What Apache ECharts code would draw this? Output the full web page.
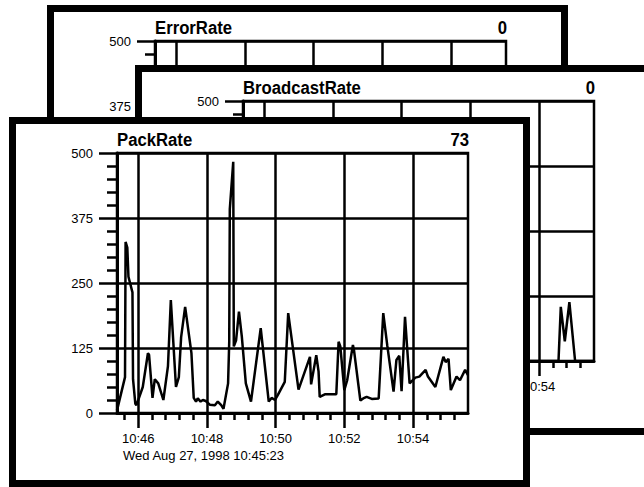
<!DOCTYPE html>
<html><head><meta charset="utf-8">
<script src="https://cdn.jsdelivr.net/npm/echarts@6/dist/echarts.min.js"></script>
<style>
html,body{margin:0;padding:0;width:644px;height:487px;overflow:hidden;background:#fff;}
.panel{position:absolute;width:521px;height:370px;border:7px solid #000;box-sizing:border-box;background:#fff;}
.panel .c{width:507px;height:356px;}
</style></head><body>
<div class="panel" style="left:47px;top:5px;z-index:1"><div class="c" id="c3"></div></div>
<div class="panel" style="left:135px;top:65px;z-index:2"><div class="c" id="c2"></div></div>
<div class="panel" style="left:9px;top:117px;z-index:3"><div class="c" id="c1"></div></div>
<script>
const startLabel = 'Wed Aug 27, 1998 10:45:23';
const axisStart = '10:45:23';
const axisEnd = '10:55:36';
const yTickValues = [0, 125, 250, 375, 500];
const xTickLabels = ['10:46', '10:48', '10:50', '10:52', '10:54'];

const packTimes = ['10:45:23','10:45:37','10:45:38','10:45:41','10:45:43','10:45:50','10:45:51','10:45:55','10:45:57','10:46:08',
 '10:46:17','10:46:19','10:46:25','10:46:29','10:46:35','10:46:44','10:46:52','10:46:57','10:47:06','10:47:11',
 '10:47:15','10:47:22','10:47:33','10:47:37','10:47:41','10:47:44','10:47:49','10:47:53','10:47:58','10:48:05',
 '10:48:14','10:48:19','10:48:25','10:48:29','10:48:37','10:48:39','10:48:40','10:48:46','10:48:47','10:48:51',
 '10:48:56','10:49:01','10:49:08','10:49:17','10:49:34','10:49:48','10:49:53','10:49:59','10:50:04','10:50:16',
 '10:50:22','10:50:40','10:51:00','10:51:02','10:51:11','10:51:15','10:51:17','10:51:26','10:51:46','10:51:50',
 '10:51:53','10:52:00','10:52:05','10:52:15','10:52:17','10:52:28','10:52:33','10:52:39','10:52:48','10:53:00',
 '10:53:08','10:53:15','10:53:26','10:53:31','10:53:36','10:53:40','10:53:46','10:53:54','10:54:04','10:54:11',
 '10:54:22','10:54:26','10:54:39','10:54:53','10:54:57','10:55:02','10:55:06','10:55:11','10:55:16','10:55:22',
 '10:55:31','10:55:36'];
const packValues = [5,69,329,318,262,232,65,18,15,50,
 115,112,29,65,57,25,90,217,50,69,
 146,204,115,29,22,28,22,25,23,16,
 15,22,15,8,57,137,392,483,128,140,
 195,147,57,22,163,22,29,25,35,60,
 192,45,108,55,111,80,31,36,36,137,
 128,44,63,131,120,24,28,31,27,28,
 192,130,41,102,110,42,185,57,68,70,
 83,70,50,108,98,104,44,57,70,63,
 83,73];

const broadcastTimes = ['10:45:23','10:54:34','10:54:38','10:54:45','10:54:53','10:55:03','10:55:36'];
const broadcastValues = [0,0,104,38,113,0,0];

const errorTimes = ['10:45:23','10:55:36'];
const errorValues = [0,0];

function toMin(t){const p=t.split(':').map(Number);return p[0]*60+p[1]+(p[2]||0)/60;}
function fmt(v){const h=Math.floor(v/60+1e-9);const m=Math.round(v-h*60);return h+':'+String(m).padStart(2,'0');}

const FONT = '"Liberation Sans", Arial, sans-serif';

function makeChart(id, name, times, values){
  const chart = echarts.init(document.getElementById(id), null, {renderer:'svg'});
  const data = times.map((t,i)=>[toMin(t), values[i]]);
  const tickVals = xTickLabels.map(toMin);
  const black = '#000';
  const titleStyle = {fill:black, fontFamily:FONT, fontWeight:'bold', fontSize:19, verticalAlign:'middle'};
  chart.setOption({
    animation:false,
    grid:{left:101, top:29, width:351, height:260, show:true, borderColor:black, borderWidth:2.5, backgroundColor:'transparent'},
    graphic:[
      {type:'text', x:101, y:16, scaleX:0.88, style:Object.assign({text:name, align:'left'}, titleStyle)},
      {type:'text', x:453, y:16, scaleX:0.88, style:Object.assign({text:String(values[values.length-1]), align:'right'}, titleStyle)},
      {type:'text', x:107, y:331, style:{text:startLabel, fill:black, fontFamily:FONT, fontSize:13, align:'left', verticalAlign:'middle'}}
    ],
    xAxis:{
      type:'value', min:toMin(axisStart), max:toMin(axisEnd), minInterval:2, maxInterval:2,
      axisLine:{show:true, onZero:false, lineStyle:{color:black, width:3}},
      axisTick:{show:true, length:15, lineStyle:{color:black, width:2.5}, customValues:tickVals},
      minorTick:{show:true, splitNumber:5, length:7, lineStyle:{color:black, width:2.5}},
      axisLabel:{show:true, margin:19, fontSize:13, color:black, fontFamily:FONT, customValues:tickVals, formatter:fmt, hideOverlap:false},
      splitLine:{show:true, lineStyle:{color:black, width:2.5}}
    },
    yAxis:{
      type:'value', min:yTickValues[0], max:yTickValues[yTickValues.length-1], interval:125,
      axisLine:{show:true, lineStyle:{color:black, width:3}},
      axisTick:{show:true, length:18, lineStyle:{color:black, width:2.5}},
      minorTick:{show:true, splitNumber:5, length:10, lineStyle:{color:black, width:2.5}},
      axisLabel:{margin:24, fontSize:13, color:black, fontFamily:FONT},
      splitLine:{show:true, lineStyle:{color:black, width:2.5}}
    },
    series:[{type:'line', data:data, symbol:'none', z:10, lineStyle:{color:black, width:2.5}}]
  });
}
makeChart('c3', 'ErrorRate', errorTimes, errorValues);
makeChart('c2', 'BroadcastRate', broadcastTimes, broadcastValues);
makeChart('c1', 'PackRate', packTimes, packValues);
</script>
</body></html>
